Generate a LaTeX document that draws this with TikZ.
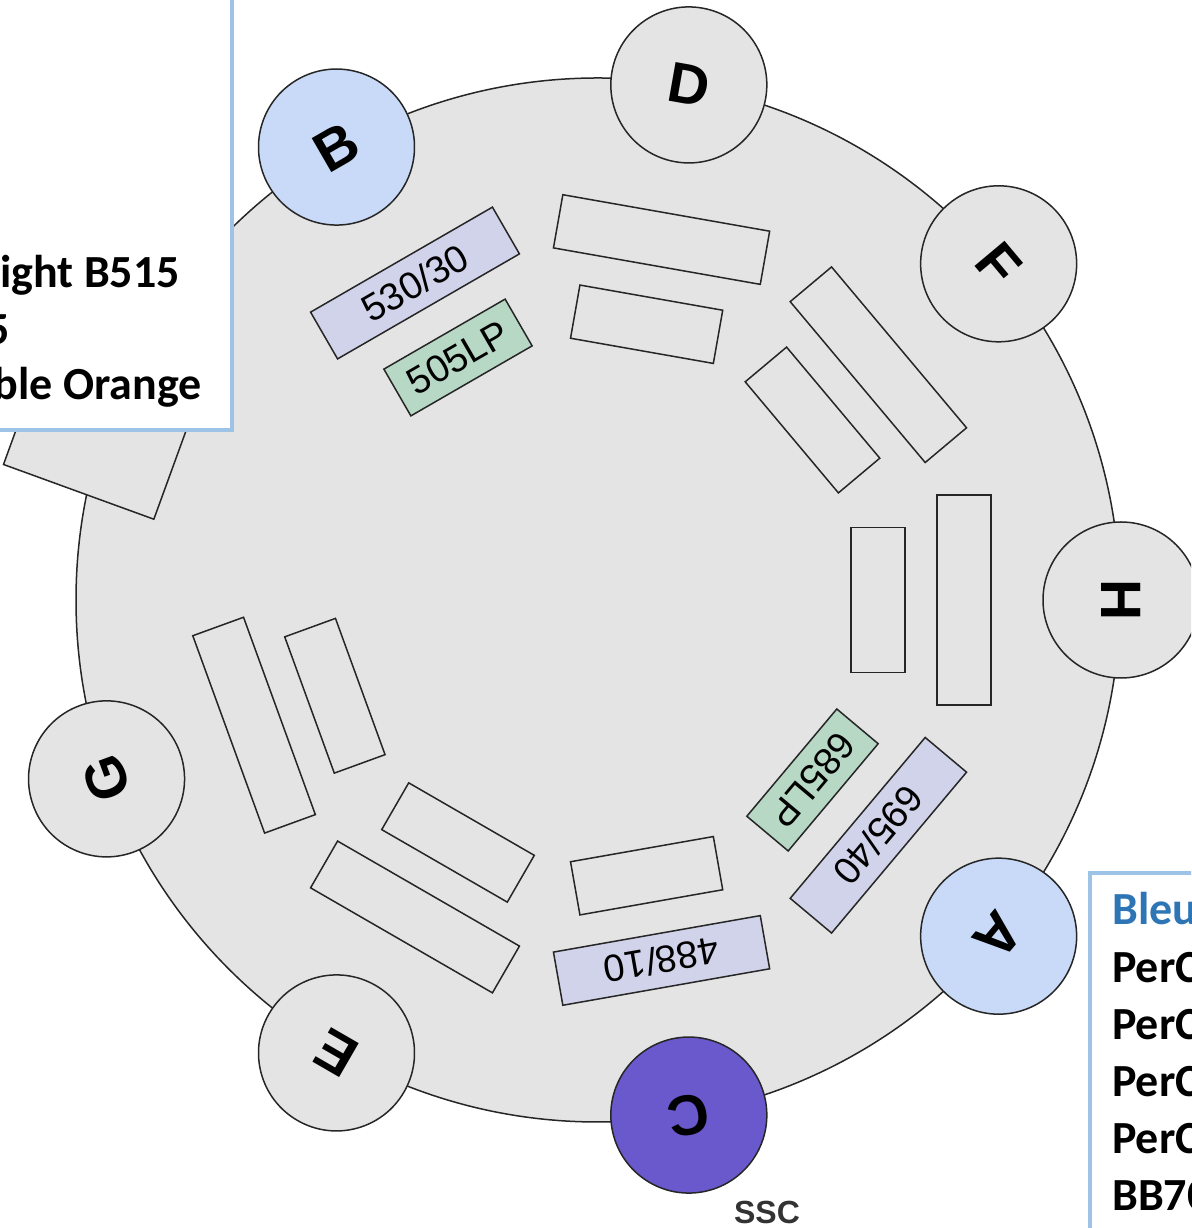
\documentclass[tikz,border=0pt]{standalone}
\usepackage{fontspec}
\usetikzlibrary{calc}
\newfontfamily\legendfont{Carlito}
\newfontfamily\wheelfont{Liberation Sans}
\definecolor{discgray}{HTML}{E4E4E4}
\definecolor{portblue}{HTML}{C9DAF8}
\definecolor{sscviolet}{HTML}{6A58CD}
\definecolor{bandpass}{HTML}{D1D3EB}
\definecolor{longpass}{HTML}{B7D8C5}
\definecolor{legendline}{HTML}{9DC3E6}
\definecolor{bleutext}{HTML}{2E75B6}

\begin{document}
\begin{tikzpicture}[
        x=1pt, y=1pt,
        port/.style = {circle, draw=black!85, fill=discgray, line width=1.5pt,
            minimum size=156pt, inner sep=0pt,
            font=\wheelfont\bfseries\fontsize{57}{57}\selectfont},
        laser/.style = {port, fill=portblue},
        ssc/.style = {port, fill=sscviolet},
        frame/.style = {rectangle, draw=black!85, line width=1.5pt,
            minimum height=54pt, inner sep=0pt,
            font=\wheelfont\fontsize{38}{38}\selectfont},
        farslot/.style = {minimum width=210pt},
        nearslot/.style = {minimum width=145pt},
        blank/.style = {frame},
        bp/.style = {frame, fill=bandpass},
        lp/.style = {frame, fill=longpass, minimum width=140pt},
        legend/.style = {draw=legendline, fill=white, line width=4pt},
        legendtext/.style = {inner sep=0pt, font=\legendfont\bfseries\fontsize{46}{46}\selectfont}
    ]
    \useasboundingbox (0,0) rectangle (1191,1228);
    \clip (0,0) rectangle (1191,1228);

    % Wheel
    \coordinate (ctr) at (598,628);
    \fill[discgray, draw=black!85, line width=1.5pt] (ctr) circle (522);

    % Filters: far and near slot for each detector
    \foreach \ang/\tag/\fs/\ft/\ns/\nt in {
            80/D/blank/{}/blank/{},
            40/F/blank/{}/blank/{},
            0/H/blank/{}/blank/{},
            -40/A/bp/{695/40}/lp/{685LP},
            -80/C/bp/{488/10}/blank/{},
            -120/E/blank/{}/blank/{},
            -160/G/blank/{}/blank/{},
            120/B/bp/{530/30}/lp/{505LP}}{
        \node[farslot, \fs, rotate=\ang-90] (\tag-far) at ($(ctr)+(\ang:366)$) {\ft};
        \node[nearslot, \ns, rotate=\ang-90] (\tag-near) at ($(ctr)+(\ang:280)$) {\nt};
    }

    % Slot under the left legend
    \node[frame, fill=discgray, minimum width=152pt, minimum height=160pt, rotate=70]
        (slot) at ($(ctr)+(160:525)$) {};

    % Detectors
    \foreach \ang/\tag/\sty in {80/D/port, 40/F/port, 0/H/port, -40/A/laser,
            -80/C/ssc, -120/E/port, -160/G/port, 120/B/laser}{
        \node[\sty, rotate=\ang-90] (\tag) at ($(ctr)+(\ang:523)$) {\tag};
    }
    \node[font=\wheelfont\bfseries\fontsize{32}{32}\selectfont, text=black!80]
        (ssclabel) at (767,16) {SSC};

    % Legend, left
    \draw[legend] (-10,798) rectangle (232,1240);
    \node[legendtext, anchor=base east] (l1) at (180,940) {ight B515};
    \node[legendtext, anchor=base east] (l2) at (10,883) {5};
    \node[legendtext, anchor=base east] (l3) at (202,828) {ble Orange};

    % Legend, right
    \draw[legend] (1090,-10) rectangle (1240,355);
    \node[legendtext, anchor=base west, text=bleutext] (r1) at (1112,303) {Bleu};
    \node[legendtext, anchor=base west] (r2) at (1112,245) {PerC};
    \node[legendtext, anchor=base west] (r3) at (1112,188) {PerC};
    \node[legendtext, anchor=base west] (r4) at (1112,131) {PerC};
    \node[legendtext, anchor=base west] (r5) at (1112,74) {PerC};
    \node[legendtext, anchor=base west] (r6) at (1112,17) {BB70};

\end{tikzpicture}
\end{document}
